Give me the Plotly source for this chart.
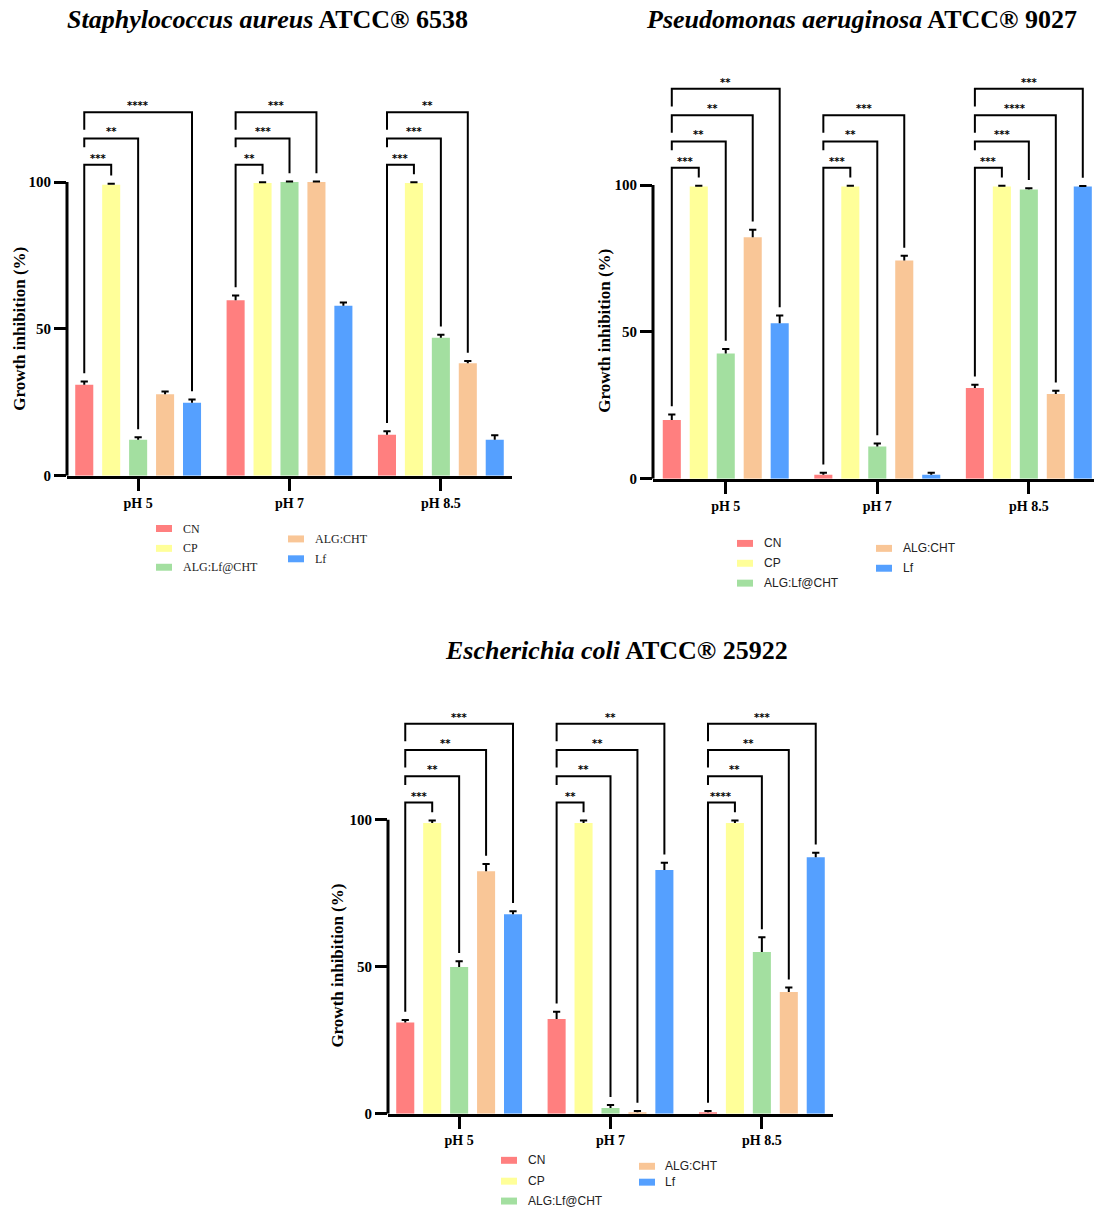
import plotly.graph_objects as go

W_PX, H_PX = 1094, 1217

GROUPS = ["pH 5", "pH 7", "pH 8.5"]
SERIES = ["CN", "CP", "ALG:Lf@CHT", "ALG:CHT", "Lf"]
COLORS = ["#FF7F7F", "#FFFF99", "#A3DFA0", "#F9C697", "#55A0FF"]

# ---------------- Staphylococcus aureus ----------------
sa_cn = [31.0, 59.8, 14.0]
sa_cn_err = [1.1, 1.6, 1.2]
sa_cp = [99.1, 99.7, 99.7]
sa_cp_err = [0.3, 0.2, 0.2]
sa_lfcht = [12.3, 100.0, 47.0]
sa_lfcht_err = [0.8, 0.2, 1.0]
sa_algcht = [27.8, 100.0, 38.3]
sa_algcht_err = [0.9, 0.2, 0.8]
sa_lf = [24.9, 57.9, 12.3]
sa_lf_err = [1.1, 1.1, 1.5]
# significance of CN vs CP, ALG:Lf@CHT, ALG:CHT, Lf ("" = not shown)
sa_sig_ph5 = ["***", "**", "", "****"]
sa_sig_ph7 = ["**", "***", "***", ""]
sa_sig_ph85 = ["***", "***", "**", ""]

# ---------------- Pseudomonas aeruginosa ----------------
pa_cn = [20.0, 1.35, 30.9]
pa_cn_err = [1.9, 0.7, 1.1]
pa_cp = [99.5, 99.5, 99.5]
pa_cp_err = [0.3, 0.3, 0.3]
pa_lfcht = [42.7, 11.0, 98.5]
pa_lfcht_err = [1.5, 1.0, 0.45]
pa_algcht = [82.2, 74.3, 28.9]
pa_algcht_err = [2.6, 1.6, 1.1]
pa_lf = [53.0, 1.35, 99.5]
pa_lf_err = [2.6, 0.7, 0.2]
pa_sig_ph5 = ["***", "**", "**", "**"]
pa_sig_ph7 = ["***", "**", "***", ""]
pa_sig_ph85 = ["***", "***", "****", "***"]

# ---------------- Escherichia coli ----------------
ec_cn = [31.0, 32.2, 0.45]
ec_cn_err = [0.9, 2.5, 0.45]
ec_cp = [98.9, 98.9, 98.9]
ec_cp_err = [0.9, 0.9, 0.9]
ec_lfcht = [49.9, 1.9, 55.0]
ec_lfcht_err = [2.0, 1.0, 5.0]
ec_algcht = [82.5, 0.45, 41.4]
ec_algcht_err = [2.5, 0.45, 1.5]
ec_lf = [67.9, 82.9, 87.3]
ec_lf_err = [1.0, 2.5, 1.5]
ec_sig_ph5 = ["***", "**", "**", "***"]
ec_sig_ph7 = ["**", "**", "**", "**"]
ec_sig_ph85 = ["****", "**", "**", "***"]

SERIF = "Liberation Serif, Times New Roman, serif"
SANS = "Liberation Sans, Arial, sans-serif"
STAR_FONT = "DejaVu Sans, sans-serif"

charts = [
    dict(
        title="<b><i>Staphylococcus aureus</i> ATCC® 6538</b>", title_xy=(267, 20),
        means=[sa_cn, sa_cp, sa_lfcht, sa_algcht, sa_lf],
        errs=[sa_cn_err, sa_cp_err, sa_lfcht_err, sa_algcht_err, sa_lf_err],
        sigs=[sa_sig_ph5, sa_sig_ph7, sa_sig_ph85],
        px_x=(67, 512), px_y=(65, 479), xr=(-0.47, 2.47), ylab_xy=(20, 331),
        leg_font=SERIF,
        leg_col1=(156, 181, [532, 552, 571]), leg_col2=(288, 313, [542.5, 562.5]),
    ),
    dict(
        title="<b><i>Pseudomonas aeruginosa</i> ATCC® 9027</b>", title_xy=(861, 20),
        means=[pa_cn, pa_cp, pa_lfcht, pa_algcht, pa_lf],
        errs=[pa_cn_err, pa_cp_err, pa_lfcht_err, pa_algcht_err, pa_lf_err],
        sigs=[pa_sig_ph5, pa_sig_ph7, pa_sig_ph85],
        px_x=(653, 1094), px_y=(68, 482), xr=(-0.48, 2.43), ylab_xy=(605, 333),
        leg_font=SANS,
        leg_col1=(737, 762, [547, 567, 587]), leg_col2=(876, 901, [552, 572]),
    ),
    dict(
        title="<b><i>Escherichia coli</i> ATCC® 25922</b>", title_xy=(616, 655),
        means=[ec_cn, ec_cp, ec_lfcht, ec_algcht, ec_lf],
        errs=[ec_cn_err, ec_cp_err, ec_lfcht_err, ec_algcht_err, ec_lf_err],
        sigs=[ec_sig_ph5, ec_sig_ph7, ec_sig_ph85],
        px_x=(388, 833), px_y=(707, 1121), xr=(-0.47, 2.47), ylab_xy=(338, 972),
        leg_font=SANS,
        leg_col1=(501, 526, [1168, 1189, 1209]), leg_col2=(639, 663, [1174, 1190]),
    ),
]

BARGAP = 0.11
GROUPGAP = 0.33
SLOT = (1 - BARGAP) / len(SERIES)
BW = SLOT * (1 - GROUPGAP)
OFFS = [-(1 - BARGAP) / 2 + SLOT * j + SLOT * GROUPGAP / 2 for j in range(len(SERIES))]
YMAX = 140
LEVEL0, DLEVEL, YGAP = 105.9, 8.95, 2.8


def px2paper_x(p):
    return p / W_PX


def px2paper_y(p):
    return 1 - p / H_PX


fig = go.Figure()
shapes, annotations = [], []
layout_axes = {}

for ci, ch in enumerate(charts):
    n = "" if ci == 0 else str(ci + 1)
    xa, ya = "x" + n, "y" + n
    for j, name in enumerate(SERIES):
        fig.add_trace(go.Bar(
            x=list(range(len(GROUPS))), y=ch["means"][j], name=name,
            marker=dict(color=COLORS[j], line=dict(width=0)),
            width=BW, offset=OFFS[j], xaxis=xa, yaxis=ya, showlegend=False,
        ))
        # upward-only error bars
        for i in range(len(GROUPS)):
            xc = i + OFFS[j] + BW / 2
            m, e = ch["means"][j][i], ch["errs"][j][i]
            c = BW * 0.2
            shapes.append(dict(type="path", xref=xa, yref=ya,
                               path=f"M{xc},{m} L{xc},{m + e} M{xc - c},{m + e} L{xc + c},{m + e}",
                               line=dict(color="black", width=2)))
    # significance brackets
    for i in range(len(GROUPS)):
        comps = [(j + 1, lab) for j, lab in enumerate(ch["sigs"][i]) if lab]
        xl = i + OFFS[0] + BW / 2
        cn_top = ch["means"][0][i] + ch["errs"][0][i] + YGAP
        for k, (j, lab) in enumerate(comps):
            lvl = LEVEL0 + k * DLEVEL
            xr_ = i + OFFS[j] + BW / 2
            yr_ = ch["means"][j][i] + ch["errs"][j][i] + YGAP
            yl = cn_top if k == 0 else lvl - (3.0 if k == 1 else 6.0)
            shapes.append(dict(type="path", xref=xa, yref=ya,
                               path=f"M{xl},{yl} L{xl},{lvl} L{xr_},{lvl} L{xr_},{yr_}",
                               line=dict(color="black", width=2)))
            annotations.append(dict(x=(xl + xr_) / 2, y=lvl, xref=xa, yref=ya, text=lab,
                                    showarrow=False, yanchor="bottom", yshift=-1,
                                    font=dict(family=STAR_FONT, size=10, color="black", weight="bold")))
    # y axis line only from 0 to 100
    shapes.append(dict(type="line", xref=xa + " domain", yref=ya, x0=0, x1=0, y0=0, y1=100,
                       line=dict(color="black", width=3)))
    x0p, x1p = ch["px_x"]
    y0p, y1p = ch["px_y"]
    layout_axes["xaxis" + n] = dict(
        domain=[px2paper_x(x0p), px2paper_x(x1p)], range=list(ch["xr"]), anchor=ya,
        tickvals=list(range(len(GROUPS))), ticktext=GROUPS, ticks="outside", ticklen=12,
        tickwidth=3, tickcolor="black", showline=True, linewidth=3, linecolor="black",
        showgrid=False, zeroline=False,
        tickfont=dict(family=SERIF, size=14, color="black", weight="bold"),
    )
    layout_axes["yaxis" + n] = dict(
        domain=[px2paper_y(y1p), px2paper_y(y0p)], range=[0, YMAX], anchor=xa,
        tickvals=[0, 50, 100], ticks="outside", ticklen=12, tickwidth=3, tickcolor="black",
        showline=False, showgrid=False, zeroline=False,
        tickfont=dict(family=SERIF, size=15, color="black", weight="bold"),
    )
    # titles
    tx, ty = ch["title_xy"]
    annotations.append(dict(x=px2paper_x(tx), y=px2paper_y(ty), xref="paper", yref="paper",
                            text=ch["title"], showarrow=False, xanchor="center", yanchor="middle",
                            font=dict(family=SERIF, size=26, color="black")))
    lx, ly = ch["ylab_xy"]
    annotations.append(dict(x=px2paper_x(lx), y=px2paper_y(ly), xref="paper", yref="paper",
                            text="<b>Growth inhibition (%)</b>", textangle=-90, showarrow=False,
                            xanchor="center", yanchor="middle",
                            font=dict(family=SERIF, size=17, color="black")))
    # legend (two columns)
    cols = [(ch["leg_col1"], [0, 1, 2]), (ch["leg_col2"], [3, 4])]
    for (sx, tx_, ys), idxs in cols:
        for yy, j in zip(ys, idxs):
            shapes.append(dict(type="rect", xref="paper", yref="paper",
                               x0=px2paper_x(sx), x1=px2paper_x(sx + 16),
                               y0=px2paper_y(yy + 3.5), y1=px2paper_y(yy - 3.5),
                               fillcolor=COLORS[j], line=dict(width=0)))
            annotations.append(dict(x=px2paper_x(tx_), y=px2paper_y(yy), xref="paper", yref="paper",
                                    text=SERIES[j], showarrow=False, xanchor="left", yanchor="middle",
                                    font=dict(family=ch["leg_font"], size=12, color="#222222")))

fig.update_layout(
    width=W_PX, height=H_PX, margin=dict(l=0, r=0, t=0, b=0),
    paper_bgcolor="white", plot_bgcolor="white", barmode="overlay",
    showlegend=False, shapes=shapes, annotations=annotations, **layout_axes,
)

fig.write_html("out.html")
